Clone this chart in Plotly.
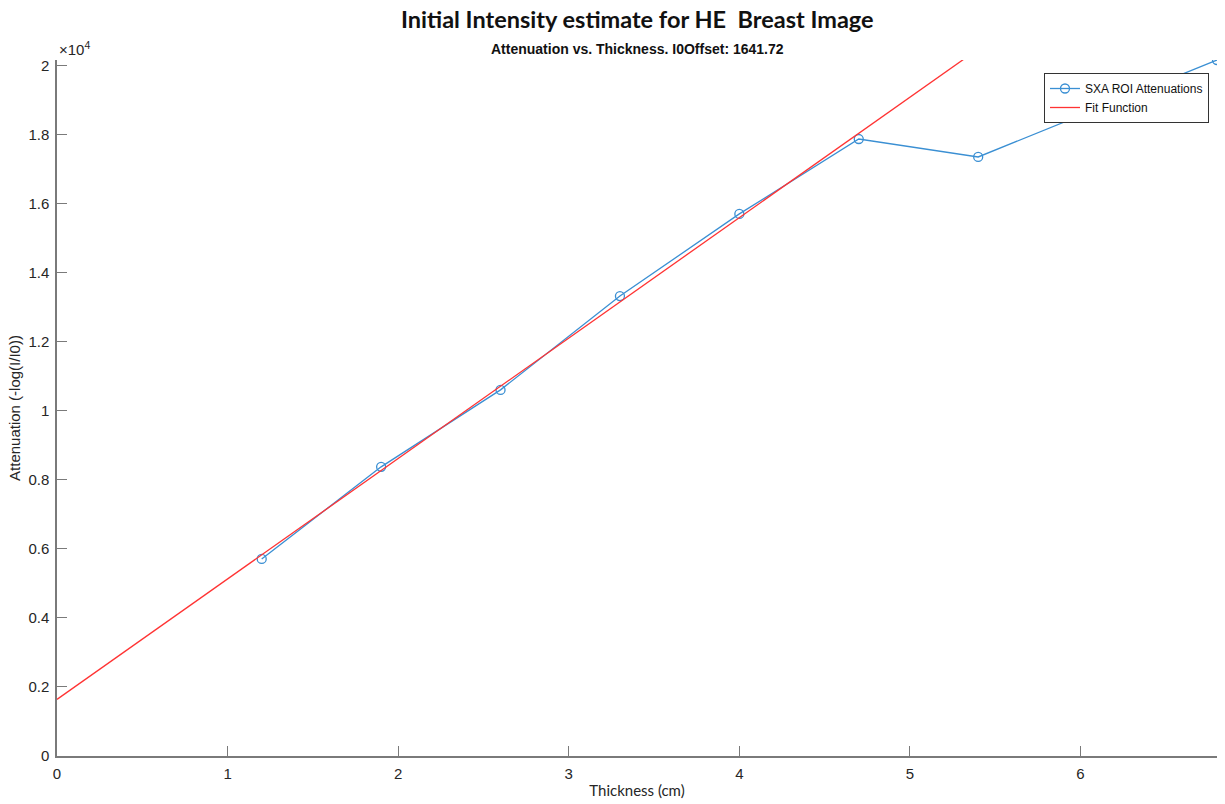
import plotly.graph_objects as go

# Measured ROI attenuations
thickness_cm = [1.2, 1.9, 2.6, 3.3, 4.0, 4.7, 5.4, 6.8]
attenuation = [5710, 8380, 10610, 13330, 15710, 17880, 17360, 20170]

# Linear fit: attenuation = offset + slope * thickness
i0_offset = 1641.72
fit_slope = 3490.0
fit_x = [0.0, 6.8]
fit_y = [i0_offset + fit_slope * x for x in fit_x]

x_ticks = [0, 1, 2, 3, 4, 5, 6]
y_ticks = [0, 2000, 4000, 6000, 8000, 10000, 12000, 14000, 16000, 18000, 20000]
y_tick_text = ["0", "0.2", "0.4", "0.6", "0.8", "1", "1.2", "1.4", "1.6", "1.8", "2"]

axis_color = "#7a7a7a"
label_color = "#262626"

fig = go.Figure()
fig.add_trace(go.Scatter(
    x=thickness_cm, y=attenuation, mode="lines+markers",
    name="SXA ROI Attenuations",
    line=dict(color="#3a8fd3", width=1.3),
    marker=dict(symbol="circle-open", size=9, color="#3a8fd3", line=dict(width=1.3)),
))
fig.add_trace(go.Scatter(
    x=fit_x, y=fit_y, mode="lines", name="Fit Function",
    line=dict(color="#ff3333", width=1.3),
))

plot_w = 1225 - 57 - 8
plot_h = 804 - 60 - 48

fig.update_layout(
    width=1225, height=804,
    margin=dict(l=57, r=8, t=60, b=48),
    paper_bgcolor="white", plot_bgcolor="white",
    showlegend=True,
    legend=dict(
        x=(1044 - 57) / plot_w, y=(756 - 73) / plot_h,
        xanchor="left", yanchor="top",
        bgcolor="white", bordercolor="#333333", borderwidth=1,
        font=dict(family="Liberation Sans, Arial", size=12, color="#111111"),
        tracegroupgap=0, itemwidth=30,
    ),
    annotations=[
        dict(text="<b>Initial Intensity estimate for HE\u00a0\u00a0Breast Image</b>",
             xref="paper", yref="paper", x=0.5, y=1.0, yshift=60 - 19,
             xanchor="center", yanchor="middle", showarrow=False,
             font=dict(family="Lato, Open Sans", size=23.5, color="#111111")),
        dict(text="<b>Attenuation vs. Thickness. I0Offset: 1641.72</b>",
             xref="paper", yref="paper", x=0.5, y=1.0, yshift=60 - 49,
             xanchor="center", yanchor="middle", showarrow=False,
             font=dict(family="Liberation Sans, Arial", size=14, color="#111111")),
        dict(text="\u00d710<sup>4</sup>",
             xref="paper", yref="paper", x=0.0, y=1.0, yshift=0,
             xanchor="left", yanchor="bottom", showarrow=False,
             font=dict(family="Liberation Sans, Arial", size=15, color=label_color)),
    ],
)

fig.update_xaxes(
    range=[0, 6.8], tickvals=x_ticks, showgrid=False, zeroline=False,
    showline=True, linecolor=axis_color, linewidth=1.5,
    ticks="inside", ticklen=10, tickwidth=1, tickcolor=axis_color,
    ticklabelstandoff=3,
    tickfont=dict(family="Liberation Sans, Arial", size=15, color=label_color),
    title=dict(text="Thickness (cm)", standoff=5,
               font=dict(family="Lato, Open Sans", size=15, color=label_color)),
)
fig.update_yaxes(
    range=[0, 20170], tickvals=y_ticks, ticktext=y_tick_text,
    showgrid=False, zeroline=False,
    showline=True, linecolor=axis_color, linewidth=1.5,
    ticks="inside", ticklen=10, tickwidth=1, tickcolor=axis_color,
    ticklabelstandoff=3,
    tickfont=dict(family="Liberation Sans, Arial", size=15, color=label_color),
    title=dict(text="Attenuation (-log(I/I0))", standoff=4,
               font=dict(family="Liberation Sans, Arial", size=15, color=label_color)),
)

fig.write_html("out.html")
